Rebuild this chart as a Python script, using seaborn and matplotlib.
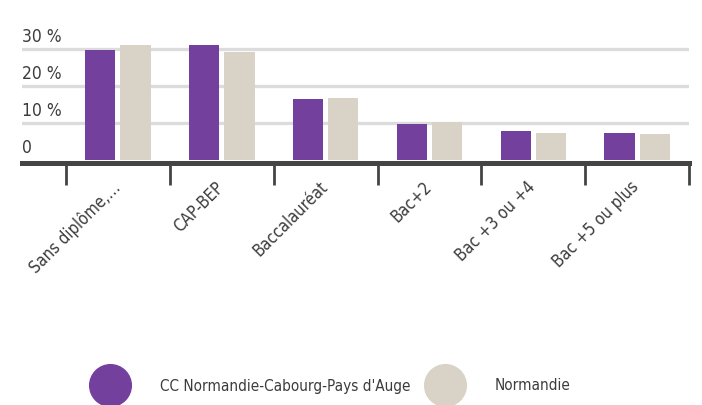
import matplotlib
matplotlib.use("Agg")
import matplotlib.pyplot as plt
import matplotlib.transforms as mtransforms
from matplotlib.lines import Line2D
import seaborn as sns
import pandas as pd

categories = ["Sans diplôme,…", "CAP-BEP", "Baccalauréat", "Bac+2", "Bac +3 ou +4", "Bac +5 ou plus"]
series_names = ["CC Normandie-Cabourg-Pays d'Auge", "Normandie"]
cc_values = [29.6, 30.9, 16.3, 9.6, 7.7, 7.1]
normandie_values = [30.9, 29.0, 16.6, 10.3, 7.3, 6.9]
ytick_values = [0, 10, 20, 30]
ytick_labels = ["0", "10 %", "20 %", "30 %"]
colors = ["#74409E", "#D9D3C7"]

df = pd.DataFrame({
    "cat": categories * 2,
    "serie": [series_names[0]] * len(categories) + [series_names[1]] * len(categories),
    "val": cc_values + normandie_values,
})

sns.set_theme(style="white")
plt.rcParams["font.family"] = ["DejaVu Sans"]
plt.rcParams["font.stretch"] = "condensed"
TXT = "#3C3C3C"

fig = plt.figure(figsize=(7.02, 4.05), dpi=100)
ax = fig.add_axes([22 / 702, (405 - 159.7) / 405, (689 - 22) / 702, 118.4 / 405])

sns.barplot(data=df, x="cat", y="val", hue="serie", order=categories,
            hue_order=series_names, palette=colors, width=0.68, gap=0.145,
            saturation=1, ax=ax, legend=False, zorder=3, linewidth=0)

ax.set_xlim(-0.5 - 44 / 103.8, 5.5)
ax.set_ylim(0, 32)
ax.set_xlabel("")
ax.set_ylabel("")

for v in ytick_values[1:]:
    ax.axhline(v, color="#DCDCDC", lw=2.4, zorder=1)

for s in ["top", "right", "left"]:
    ax.spines[s].set_visible(False)
ax.spines["bottom"].set_color("#444444")
ax.spines["bottom"].set_linewidth(3.6)
ax.spines["bottom"].set_position(("outward", 2.3))
ax.spines["bottom"].set_zorder(4)

ax.set_xticks([i - 0.5 for i in range(len(categories) + 1)], minor=True)
ax.tick_params(axis="x", which="minor", length=15.5, width=2, color="#444444",
               bottom=True, direction="out")
ax.tick_params(axis="x", which="major", length=0, pad=11, labelrotation=45,
               labelsize=12, labelcolor=TXT)
ax.tick_params(axis="y", length=0, pad=0, labelsize=12.5, labelcolor=TXT)

ax.set_yticks(ytick_values)
ax.set_yticklabels(ytick_labels)
ax.set_xticks(range(len(categories)))
ax.set_xticklabels(categories)

off_y = mtransforms.ScaledTranslation(0, 4.7 / 72, fig.dpi_scale_trans)
for lab in ax.get_yticklabels():
    lab.set_ha("left")
    lab.set_va("baseline")
    lab.set_fontstretch("condensed")
    lab.set_transform(lab.get_transform() + off_y)

off_x = mtransforms.ScaledTranslation(-5 / 72, 0, fig.dpi_scale_trans)
for lab in ax.get_xticklabels():
    lab.set_rotation(45)
    lab.set_ha("right")
    lab.set_va("top")
    lab.set_fontstretch("condensed")
    lab.set_rotation_mode("anchor")
    lab.set_transform(lab.get_transform() + off_x)

for c, name, x0 in zip(colors, series_names, [91 / 702, 426 / 702]):
    h = Line2D([], [], marker="o", ls="none", markersize=30,
               markerfacecolor=c, markeredgecolor=c)
    fig.legend([h], [name], loc="center left", bbox_to_anchor=(x0, 19 / 405),
               frameon=False, fontsize=11, labelcolor=TXT, borderpad=0,
               borderaxespad=0, handletextpad=2.0, handlelength=2.5)

fig.savefig("out.png", dpi=100)
